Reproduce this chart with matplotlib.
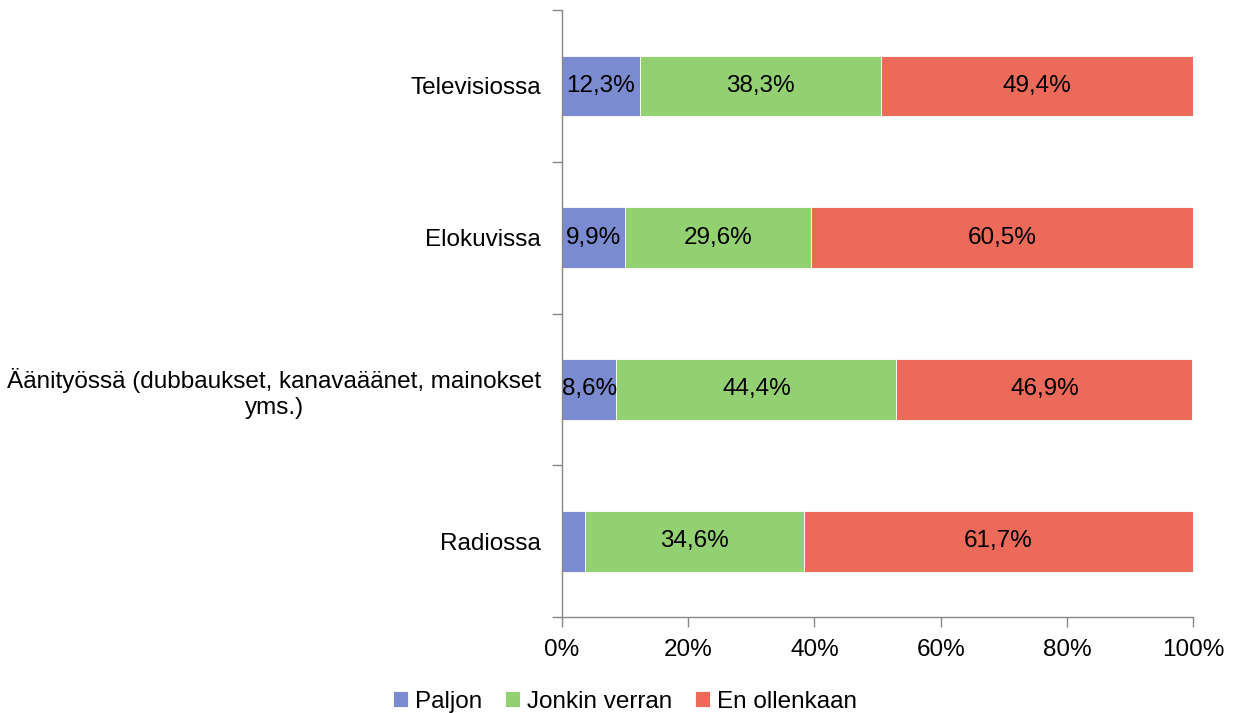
import numpy as np
import matplotlib.pyplot as plt
from matplotlib.ticker import FixedLocator, PercentFormatter

plt.rcParams["font.family"] = ["Liberation Sans", "DejaVu Sans"]

categories = [
	"Televisiossa",
	"Elokuvissa",
	"Äänityössä (dubbaukset, kanavaäänet, mainokset\nyms.)",
	"Radiossa",
]
series_names = ["Paljon", "Jonkin verran", "En ollenkaan"]
paljon = [12.3, 9.9, 8.6, 3.7]
jonkin = [38.3, 29.6, 44.4, 34.6]
en = [49.4, 60.5, 46.9, 61.7]
show_label = [
	[True, True, True, False],
	[True, True, True, True],
	[True, True, True, True],
]
colors = ["#7b8bcf", "#92d072", "#eb6a59"]

FS = 17.5

fig = plt.figure(figsize=(12.38, 7.13), dpi=100)
ax = fig.add_axes([0.454, 0.1346, 0.5097, 0.8514])

y = np.arange(len(categories))
left = np.zeros(len(categories))
for name, vals, col, shows in zip(series_names, [paljon, jonkin, en], colors, show_label):
	vals = np.array(vals)
	ax.barh(y, vals, left=left, height=0.40, color=col, edgecolor="white", linewidth=0.6, label=name)
	for yi, (l, v, s) in enumerate(zip(left, vals, shows)):
		if s:
			ax.text(l + v / 2, yi, f"{v:.1f}%".replace(".", ","), ha="center", va="center", fontsize=FS, color="black")
	left = left + vals

ax.set_ylim(len(categories) - 0.5, -0.5)
ax.set_xlim(0, 100)
ax.set_yticks(y)
ax.set_yticklabels(categories, fontsize=FS, multialignment="center")
ax.tick_params(axis="y", which="major", length=0, pad=15)
ax.yaxis.set_minor_locator(FixedLocator(np.arange(-0.5, len(categories), 1.0)))
ax.tick_params(axis="y", which="minor", length=7, color="#888888", width=1)

ax.set_xticks([0, 20, 40, 60, 80, 100])
ax.xaxis.set_major_formatter(PercentFormatter(decimals=0))
ax.tick_params(axis="x", length=7, color="#888888", width=1, labelsize=FS, pad=9)

for side in ["top", "right"]:
	ax.spines[side].set_visible(False)
for side in ["left", "bottom"]:
	ax.spines[side].set_color("#888888")
	ax.spines[side].set_linewidth(1)

fig.legend(
	loc="lower center",
	bbox_to_anchor=(0.505, -0.03),
	ncol=3,
	frameon=False,
	fontsize=FS,
	handlelength=0.6,
	handleheight=0.6,
	handletextpad=0.3,
	columnspacing=0.95,
)

fig.savefig("out.png", dpi=100)
